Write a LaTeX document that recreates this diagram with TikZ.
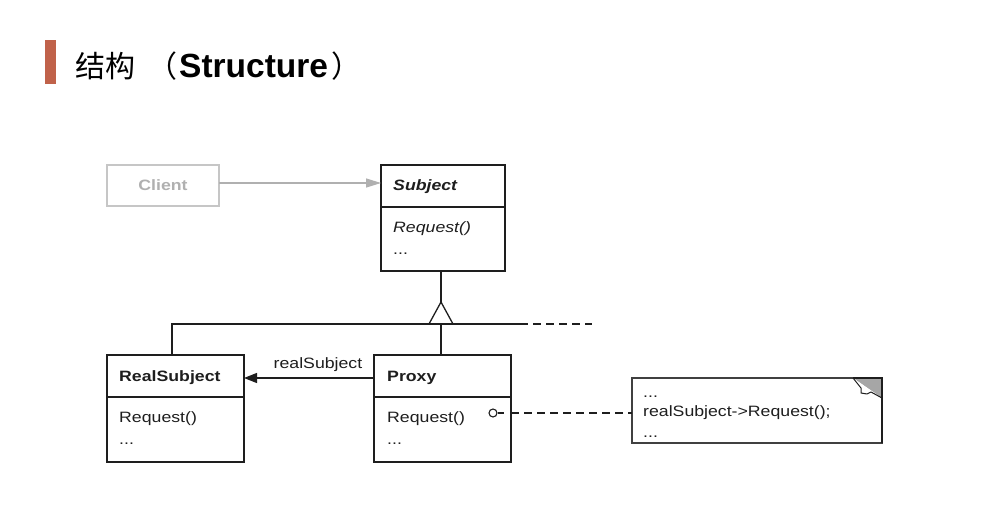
\documentclass[tikz,border=0pt]{standalone}
\usepackage{fontspec}
\setmainfont{Liberation Sans}
\newfontfamily\cjk{Noto Sans CJK SC}
\newfontfamily\umlfont[FakeStretch=1.18]{Liberation Sans}
\newfontfamily\titlelatin{Liberation Sans}
\usetikzlibrary{arrows.meta,calc}

\definecolor{accent}{HTML}{C0624A}
\definecolor{ink}{HTML}{1E1E1E}
\definecolor{faded}{HTML}{B0B0B0}
\definecolor{fadedline}{HTML}{C6C6C6}
\definecolor{foldgray}{HTML}{A6A6A6}

\begin{document}
\begin{tikzpicture}[x=1pt,y=-1pt,
  classbox/.style={draw=ink, line width=1.3pt, anchor=north west,
    inner sep=0pt, outer sep=0pt},
  umltext/.style={anchor=base west, inner sep=0pt,
    font=\umlfont\fontsize{15}{18}\selectfont, text=ink},
  umlbold/.style={umltext, font=\umlfont\bfseries\fontsize{15}{18}\selectfont},
  umlboldit/.style={umltext, font=\umlfont\bfseries\itshape\fontsize{15}{18}\selectfont},
  umlit/.style={umltext, font=\umlfont\itshape\fontsize{15}{18}\selectfont},
  link/.style={draw=ink, line width=1.3pt},
  dashlink/.style={link, dash pattern=on 8pt off 5pt},
]
\useasboundingbox[fill=white] (0,0) rectangle (989,506);

% slide heading
\fill[accent] (45,40) rectangle (56,84);
\node[anchor=base west, inner sep=0pt, text=black] (title) at (75,77)
  {\cjk\fontsize{30}{34}\selectfont 结构\hspace{12pt}（\hspace{2pt}{\titlelatin\bfseries\fontsize{33.5}{38}\selectfont Structure}\hspace{3pt}）};

% client (greyed out)
\node[classbox, draw=fadedline, minimum width=112pt, minimum height=41pt]
  (client) at (107,165) {};
\node[inner sep=0pt, text=faded, font=\umlfont\bfseries\fontsize{15}{18}\selectfont]
  (clientname) at (client.center) {Client};

% Subject
\node[classbox, minimum width=124pt, minimum height=106pt] (subject) at (381,165) {};
\draw[link] ($(subject.north west)+(0,42)$) -- ($(subject.north east)+(0,42)$);
\node[umlboldit] (subjname) at (393,190) {Subject};
\node[umlit] (subjop) at (393,232) {Request()};
\node[umltext] (subjmore) at (393,254) {...};

\draw[draw=fadedline, line width=1.3pt, -{Triangle[length=15pt,width=9pt]}, color=faded]
  (client.east |- 0,183) -- (subject.west |- 0,183);

% RealSubject
\node[classbox, minimum width=137pt, minimum height=107pt] (real) at (107,355) {};
\draw[link] ($(real.north west)+(0,42)$) -- ($(real.north east)+(0,42)$);
\node[umlbold] (realname) at (119,381) {RealSubject};
\node[umltext] (realop) at (119,422) {Request()};
\node[umltext] (realmore) at (119,444) {...};

% Proxy
\node[classbox, minimum width=137pt, minimum height=107pt] (proxy) at (374,355) {};
\draw[link] ($(proxy.north west)+(0,42)$) -- ($(proxy.north east)+(0,42)$);
\node[umlbold] (proxyname) at (387,381) {Proxy};
\node[umltext] (proxyop) at (387,422) {Request()};
\node[umltext] (proxymore) at (387,444) {...};

% inheritance tree
\coordinate (apex) at (441,302);
\coordinate (bar) at (441,324);
\coordinate (barstart) at (172,324);
\coordinate (barend) at (528,324);
\coordinate (dashend) at (592,324);
\draw[link] (subject.south -| apex) -- (apex);
\draw[link, line join=miter] (real.north -| barstart) -- (barstart) -- (barend);
\draw[dashlink] (barend) ++(5,0) -- (dashend);
\draw[link] (bar) -- (proxy.north -| bar);
\draw[link, line join=miter] ($(bar)+(-12,0)$) -- (apex) -- ($(bar)+(12,0)$);

% association Proxy -> RealSubject
\draw[link, -{Triangle[length=13pt,width=10pt]}]
  (proxy.west |- 0,378) -- (real.east |- 0,378);
\node[anchor=base, inner sep=0pt, text=ink,
  font=\umlfont\fontsize{15}{18}\selectfont] (assoc) at (318,368) {realSubject};

% implementation note
\node[classbox, draw=ink!85, line width=1.6pt, minimum width=250pt, minimum height=65pt]
  (note) at (632,378) {};
\node[umltext] (notea) at (643,397) {...};
\node[umltext] (noteb) at (643,416) {realSubject->Request();};
\node[umltext] (notec) at (643,437) {...};
\fill[foldgray] ($(note.north east)+(-29,0)$) -- (note.north east) -- ($(note.north east)+(0,20)$) -- cycle;
\draw[link, line width=1pt, fill=white, line join=round]
  ($(note.north east)+(-29,0)$) -- ++(8,10) -- ++(0,5) -- ++(6,1) -- ++(4,-2) -- (note.north east |- 0,398);
\draw[draw=ink, line width=1.6pt] ($(note.north east)+(-29,0)$) -- (note.north east) -- (note.south east);

% note anchor on Proxy::Request()
\node[draw=ink, line width=1.1pt, circle, inner sep=0pt, minimum size=8pt, fill=white]
  (hook) at (493,413) {};
\draw[link, line width=1.1pt] (hook.east) -- ++(6,0);
\draw[dashlink] (proxy.east |- hook) -- (note.west |- hook);
\end{tikzpicture}
\end{document}
